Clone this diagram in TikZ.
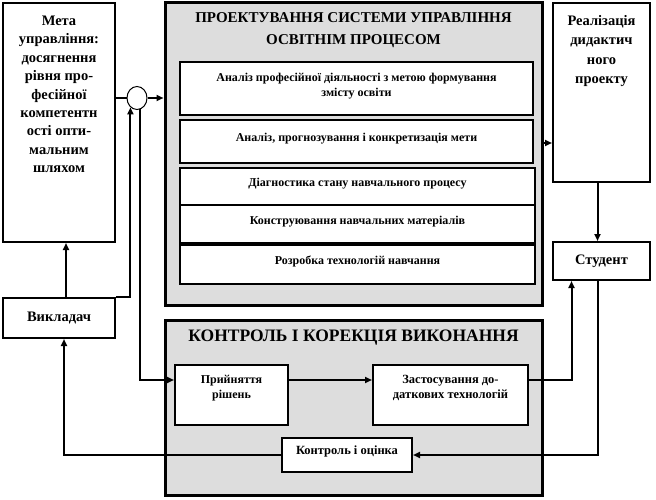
\documentclass[tikz,border=0pt]{standalone}
\usepackage{fontspec}
\setmainfont{Liberation Serif}
\usetikzlibrary{positioning,arrows.meta,shapes.geometric}

\begin{document}
\begin{tikzpicture}[x=1pt, y=-1pt, font=\bfseries, line width=2pt,
  >={Triangle[length=7pt,width=6pt]}]
\tikzstyle{box}=[draw, fill=white, line width=2pt, inner sep=0pt,
  align=center, font=\bfseries\fontsize{14.5}{17}\selectfont]
\tikzstyle{panel}=[draw, fill=gray!27, line width=3pt, inner sep=0pt]
\tikzstyle{sub}=[draw, fill=white, line width=2pt, align=center,
  text depth=8pt, font=\bfseries\fontsize{12}{15}\selectfont]
\tikzstyle{txt}=[inner sep=0pt, align=center]
\useasboundingbox (0,0) rectangle (656,500);
% left column
\node[box, minimum width=112pt, minimum height=239pt] (meta) at (59,122.5) {};
\node[txt, below=13pt of meta.north, font=\bfseries\fontsize{14.5}{18.4}\selectfont] (metat)
  {Мета\\управління:\\досягнення\\рівня про-\\фесійної\\компетентн\\ості опти-\\мальним\\шляхом};
\node[box, minimum width=112pt, minimum height=40pt] (vykl) at (59,318) {Викладач};
\node[ellipse, draw, fill=white, line width=1pt, inner sep=0pt,
  minimum width=20pt, minimum height=23pt] (circ) at (137,98) {};
% design panel
\node[panel, minimum width=377pt, minimum height=302pt] (proj) at (353.5,154) {};
\node[txt, below=10pt of proj.north, font=\bfseries\fontsize{15}{22}\selectfont] (projt)
  {ПРОЕКТУВАННЯ СИСТЕМИ УПРАВЛІННЯ\\ОСВІТНІМ ПРОЦЕСОМ};
\node[sub, minimum width=353pt, minimum height=53pt] (s1) at (356.5,88.5)
  {Аналіз професійної діяльності з метою формування\\змісту освіти};
\node[sub, minimum width=353pt, minimum height=43pt] (s2) at (356.5,141.5)
  {Аналіз, прогнозування і конкретизація мети};
\node[sub, minimum width=355pt, minimum height=37pt] (s3) at (357.5,186.5)
  {Діагностика стану навчального процесу};
\node[sub, minimum width=355pt, minimum height=38pt] (s4) at (357.5,224)
  {Конструювання навчальних матеріалів};
\node[sub, minimum width=355pt, minimum height=39pt] (s5) at (357.5,264.5)
  {Розробка технологій навчання};
% right column
\node[box, minimum width=97pt, minimum height=179pt] (real) at (601.5,92.5) {};
\node[txt, below=12pt of real.north, font=\bfseries\fontsize{14.5}{19.5}\selectfont] (realt)
  {Реалізація\\дидактич\\ного\\проекту};
\node[box, minimum width=97pt, minimum height=38pt] (stud) at (601.5,261) {Студент};
% control panel
\node[panel, minimum width=377pt, minimum height=175pt] (ctrl) at (353.5,407.5) {};
\node[txt, below=10pt of ctrl.north, font=\bfseries\fontsize{17.5}{20}\selectfont] (ctrlt)
  {КОНТРОЛЬ І КОРЕКЦІЯ ВИКОНАННЯ};
\node[sub, minimum width=113pt, minimum height=60pt, text depth=16pt,
  font=\bfseries\fontsize{12}{15}\selectfont] (prin) at (231.5,395) {Прийняття\\рішень};
\node[sub, minimum width=155pt, minimum height=60pt, text depth=16pt,
  font=\bfseries\fontsize{12.5}{15}\selectfont] (zast) at (450.5,395)
  {Застосування до-\\даткових технологій};
\node[sub, minimum width=130pt, minimum height=34pt, text depth=10pt,
  font=\bfseries\fontsize{12.5}{15}\selectfont] (kontr) at (347,455) {Контроль і оцінка};
% connectors
\draw (circ.west -| meta.east) -- (circ.west);
\draw[->] (circ.east) -- (circ.east -| proj.west);
\draw[->] (vykl.north east) -| (circ.235);
\draw[->] (circ.285) |- ([yshift=15pt]prin.west);
\draw[->] ([xshift=7pt]vykl.north) -- ([xshift=7pt]meta.south);
\draw[->] (kontr.west) -| ([xshift=5pt]vykl.south);
\draw[->] ([yshift=15pt]prin.east) -- ([yshift=15pt]zast.west);
\draw[->] ([yshift=15pt]zast.east) -| ([xshift=-30pt]stud.south);
\draw[->] ([xshift=-4pt]stud.south) |- (kontr.east);
\draw[->] ([xshift=-4pt]real.south) -- ([xshift=-4pt]stud.north);
\draw[->] ([yshift=11pt]proj.east) -- ([yshift=11pt]proj.east -| real.west);
\end{tikzpicture}
\end{document}
